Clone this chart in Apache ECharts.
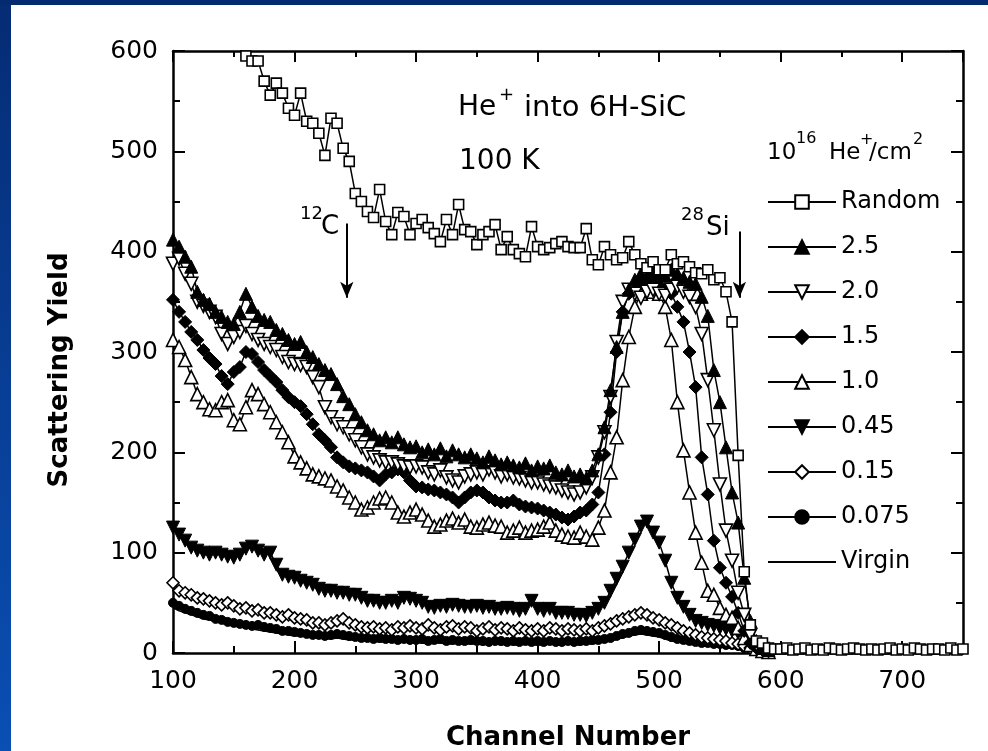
<!DOCTYPE html>
<html>
<head>
<meta charset="utf-8">
<script src="https://cdn.jsdelivr.net/npm/echarts@6/dist/echarts.min.js"></script>
<style>
html,body{margin:0;padding:0;background:#fff;}
#main{width:988px;height:751px;}
</style>
</head>
<body>
<div id="main"></div>
<script>
// channel grid: 100..590 (channeled spectra), 100..750 (random / virgin), step 5
var chStart = 100, chStep = 5;

var yieldRandom = [
  720,710,700,690,680,670,660,648,635,622,
  610,602,595,590,590,570,556,568,558,543,
  536,558,530,528,518,496,533,528,503,490,
  458,450,440,434,462,430,417,439,435,417,
  428,432,424,418,410,432,417,447,422,420,
  407,417,420,427,402,415,402,398,395,425,
  405,402,404,408,410,405,404,404,423,392,
  387,405,397,392,394,410,397,388,384,390,
  382,382,397,388,390,385,379,378,382,372,
  374,360,330,197,81,28,12,10,5,4,
  4,5,3,4,5,3,4,3,5,4,
  3,4,5,4,3,4,3,4,5,3,
  4,3,5,4,3,4,4,3,5,3,
  4
];
var yield25 = [
  412,405,395,385,360,352,348,340,335,330,
  328,340,358,345,336,332,330,322,318,312,
  308,310,300,295,288,282,278,268,256,248,
  238,230,222,218,212,215,210,215,208,205,
  206,200,203,198,204,196,202,198,195,198,
  194,190,196,192,188,190,187,185,189,182,
  186,184,187,180,178,182,176,178,174,182,
  198,225,262,305,340,362,372,378,375,380,
  378,376,382,378,374,370,368,355,336,282,
  250,205,160,130,75,32,12,5,3
];
var yield20 = [
  388,393,378,368,350,346,340,335,318,308,
  315,320,326,318,312,308,305,302,295,290,
  288,287,285,275,265,245,235,228,225,218,
  212,205,198,195,192,190,190,188,186,185,
  186,185,180,178,182,175,172,170,176,178,
  180,178,183,180,176,178,175,174,172,170,
  170,168,166,165,162,160,158,160,165,175,
  195,220,255,310,350,362,358,354,360,362,
  358,356,362,365,360,355,345,318,272,222,
  168,122,92,60,38,18,8,4,2
];
var yield15 = [
  352,340,330,320,312,302,294,288,276,268,
  280,285,300,298,290,282,276,270,262,255,
  250,246,238,228,218,212,205,195,190,186,
  184,182,180,176,172,178,180,183,180,172,
  166,165,163,162,160,158,155,150,155,160,
  162,160,155,152,150,150,152,148,146,145,
  144,142,140,138,135,133,136,140,142,148,
  160,198,240,300,340,358,365,368,365,368,
  366,362,358,345,330,300,265,195,158,112,
  85,70,56,40,22,10,5,3,2
];
var yield10 = [
  312,305,292,275,258,250,243,242,250,252,
  232,228,245,262,258,248,240,230,220,210,
  196,190,184,178,176,174,172,166,162,155,
  150,143,145,150,154,155,150,140,136,140,
  143,138,132,126,128,132,134,130,133,126,
  125,128,130,127,126,120,122,125,120,122,
  123,126,130,122,118,116,115,120,116,113,
  125,142,180,215,272,315,345,358,362,360,
  358,345,312,250,202,160,120,90,62,58,
  45,38,35,25,15,8,4,2,1
];
var yield045 = [
  125,118,112,105,102,100,98,100,98,96,
  95,98,104,106,102,98,100,88,78,76,
  75,72,70,68,64,62,62,60,60,58,
  58,55,52,52,50,50,52,50,55,54,
  52,50,46,45,47,46,48,47,46,46,
  47,45,46,44,44,45,44,42,44,52,
  44,42,44,40,40,40,38,38,37,40,
  44,50,62,74,86,100,113,126,131,120,
  110,92,70,55,46,38,32,30,28,27,
  25,24,22,20,16,10,5,3,2
];
var yield015 = [
  70,62,60,58,55,54,52,50,48,50,
  47,44,45,42,43,40,40,38,36,38,
  35,34,33,30,30,28,30,32,34,30,
  28,26,25,26,24,25,23,26,25,27,
  25,24,28,25,23,26,27,24,26,25,
  22,24,26,23,25,24,22,25,23,22,
  24,22,25,24,22,24,23,22,24,22,
  25,27,29,32,34,36,38,40,38,35,
  33,30,28,25,22,20,18,16,15,14,
  13,12,10,9,7,5,3,2,1
];
var yield0075 = [
  50,47,44,42,40,38,37,34,33,31,
  30,29,28,27,28,26,25,24,22,22,
  21,20,19,18,18,17,18,19,18,17,
  16,15,15,14,15,14,14,13,14,13,
  13,14,12,13,14,12,13,12,12,13,
  12,12,11,12,12,11,12,11,12,11,
  12,11,12,11,11,12,11,12,12,13,
  13,14,15,17,19,20,22,23,22,21,
  20,18,16,14,13,12,11,10,10,9,
  9,8,8,7,5,4,3,2,1
];
var yieldVirgin = [
  45,42,40,38,36,34,33,31,30,28,
  27,26,25,24,23,22,21,20,19,18,
  17,17,16,15,15,14,14,15,14,13,
  13,12,12,12,11,11,11,10,11,10,
  10,10,9,10,10,9,9,10,9,9,
  9,8,9,9,8,9,8,8,9,8,
  8,8,9,8,8,9,8,8,9,9,
  10,11,12,14,15,17,18,19,18,17,
  16,14,12,11,10,9,8,7,7,6,
  6,5,5,4,3,2,1,1,1,1,
  1,1,1,1,1,1,1,1,1,1,
  1,1,1,1,1,1,1,1,1,1,
  1,1,1,1,1,1,1,1,1,1,
  1
];
var legendNames = ['Random','2.5','2.0','1.5','1.0','0.45','0.15','0.075','Virgin'];
var xTicks = {min:100, max:750, major:100, minor:50};
var yTicks = {min:0, max:600, major:100};

var FONT = '"DejaVu Sans", sans-serif';

function toPairs(vals){
  var out = [];
  for (var i = 0; i < vals.length; i++) out.push([chStart + i*chStep, vals[i]]);
  return out;
}

// one marker series
function mk(name, vals, symbol, size, open, rotate){
  return {
    name:name, type:'line', data:toPairs(vals),
    symbol:symbol, symbolSize:size, symbolRotate:rotate||0,
    showAllSymbol:true, clip:true,
    lineStyle:{color:'#000', width:1.5},
    itemStyle: open ? {color:'#fff', borderColor:'#000', borderWidth:1.6}
                    : {color:'#000', borderColor:'#000', borderWidth:1},
    emphasis:{disabled:true}
  };
}

function xAx(pos, interval, tickLen, showLine, showLabel){
  return {
    type:'value', position:pos, min:xTicks.min, max:xTicks.max, interval:interval,
    axisLine:{show:showLine, lineStyle:{color:'#000', width:2.5}},
    axisTick:{inside:true, length:tickLen, lineStyle:{color:'#000', width:2}},
    axisLabel:{show:showLabel, margin:16, fontSize:25, color:'#000', fontFamily:FONT, showMaxLabel:false},
    splitLine:{show:false}
  };
}
function yAx(pos, showLabel){
  return {
    type:'value', position:pos, min:yTicks.min, max:yTicks.max, interval:yTicks.major,
    axisLine:{show:true, lineStyle:{color:'#000', width:2.5}},
    axisTick:{inside:true, length:12, lineStyle:{color:'#000', width:2}},
    minorTick:{show:true, splitNumber:2, length:7, lineStyle:{color:'#000', width:2}},
    axisLabel:{show:showLabel, margin:15, fontSize:25, color:'#000', fontFamily:FONT},
    splitLine:{show:false}, minorSplitLine:{show:false}
  };
}
function txt(x, y, s, size, bold, align){
  return {type:'text', x:x, y:y, z:100, silent:true,
    style:{text:s, fill:'#000', font:(bold?'bold ':'')+size+'px '+FONT,
           align:align||'left', verticalAlign:'middle'}};
}

var random = mk('Random', yieldRandom, 'rect', 10, true);
random.markLine = {
  silent:true, symbol:['none','arrow'], symbolSize:[10,16], animation:false,
  label:{show:false}, lineStyle:{color:'#000', width:2, type:'solid'},
  data:[
    [{coord:[243,428]},{coord:[243,354]}],
    [{coord:[566,420]},{coord:[566,354]}]
  ]
};

var virgin = {
  name:'Virgin', type:'line', data:toPairs(yieldVirgin), symbol:'none', clip:true,
  lineStyle:{color:'#000', width:1.5}, itemStyle:{color:'#000'}, emphasis:{disabled:true}
};

// legend entries; Virgin is a bare line
var legendData = legendNames.map(function(n){
  return n === 'Virgin' ? {name:n, itemStyle:{color:'rgba(0,0,0,0)', borderWidth:0}} : {name:n};
});

var chart = echarts.init(document.getElementById('main'));
chart.setOption({
  animation:false,
  backgroundColor:'#fff',
  grid:{left:173, right:25, top:51, bottom:98},
  xAxis:[
    xAx('bottom', xTicks.major, 12, true, true),
    xAx('bottom', xTicks.minor, 7, false, false),
    xAx('top', xTicks.major, 11, true, false),
    xAx('top', xTicks.minor, 6, false, false)
  ],
  yAxis:[yAx('left', true), yAx('right', false)],
  legend:{
    orient:'vertical', left:762, top:185, itemWidth:68, itemHeight:17, itemGap:21,
    selectedMode:false, data:legendData,
    textStyle:{fontFamily:FONT, fontSize:24, color:'#000', lineHeight:24}
  },
  graphic:{elements:[
    // blue slide frame
    {type:'rect', shape:{x:0, y:0, width:11, height:751}, silent:true,
     style:{fill:new echarts.graphic.LinearGradient(0,0,0,1,[{offset:0,color:'#052c74'},{offset:1,color:'#0a4fb4'}])}},
    {type:'rect', shape:{x:0, y:0, width:988, height:5}, silent:true, style:{fill:'#042a70'}},
    txt(458, 108, 'He', 28), txt(499, 95, '+', 18), txt(524, 108, 'into 6H-SiC', 29),
    txt(459, 162, '100 K', 28),
    txt(767, 153, '10', 23), txt(796, 139, '16', 16), txt(829, 153, 'He', 23),
    txt(860, 140, '+', 16), txt(869, 153, '/cm', 23), txt(913, 140, '2', 16),
    txt(300, 214, '12', 18), txt(321, 227, 'C', 26),
    txt(681, 215, '28', 18), txt(706, 228, 'Si', 26),
    txt(568, 738, 'Channel Number', 26, true, 'center'),
    {type:'text', x:60, y:370, rotation:Math.PI/2, z:100, silent:true,
     style:{text:'Scattering Yield', fill:'#000', font:'bold 26px '+FONT, align:'center', verticalAlign:'middle'}}
  ]},
  series:[
    virgin,
    mk('0.075', yield0075, 'circle', 9, false),
    mk('0.15', yield015, 'diamond', 12, true),
    mk('0.45', yield045, 'triangle', 13, false, 180),
    mk('1.0', yield10, 'triangle', 13, true),
    mk('1.5', yield15, 'diamond', 13, false),
    mk('2.0', yield20, 'triangle', 13, true, 180),
    mk('2.5', yield25, 'triangle', 13, false),
    random
  ]
});
</script>
</body>
</html>
